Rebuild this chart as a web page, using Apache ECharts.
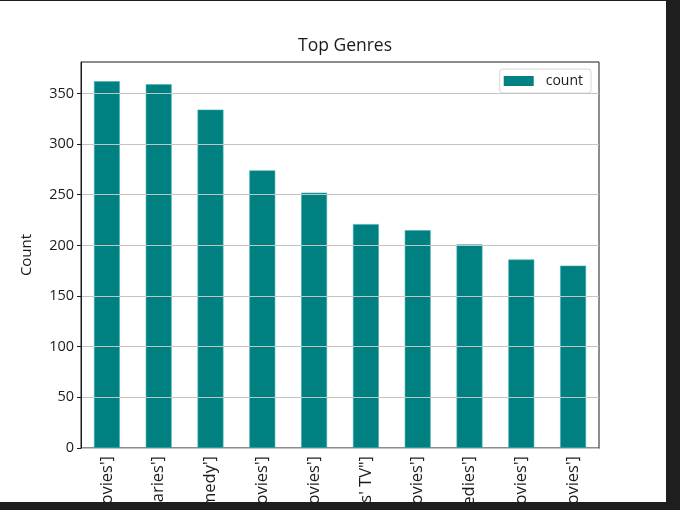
<!DOCTYPE html>
<html>
<head>
<meta charset="utf-8">
<script src="https://cdn.jsdelivr.net/npm/echarts@6/dist/echarts.min.js"></script>
<style>
html,body{margin:0;padding:0;background:#fff;}
#c{width:680px;height:510px;}
</style>
</head>
<body>
<div id="c"></div>
<script>
const categories = [
  "['Dramas', 'International Movies']",
  "['Documentaries']",
  "['Stand-Up Comedy']",
  "['Comedies', 'Dramas', 'International Movies']",
  "['Dramas', 'Independent Movies', 'International Movies']",
  "[\"Kids' TV\"]",
  "['Children & Family Movies']",
  "['Children & Family Movies', 'Comedies']",
  "['Documentaries', 'International Movies']",
  "['Dramas', 'International Movies', 'Romantic Movies']"
];
const counts = [362, 359, 334, 274, 252, 221, 215, 201, 186, 180];
const yTicks = [0, 50, 100, 150, 200, 250, 300, 350];
const yMax = 381;

const font = "'Open Sans', 'DejaVu Sans', sans-serif";
const chart = echarts.init(document.getElementById('c'));
chart.setOption({
  backgroundColor: '#ffffff',
  animation: false,
  title: {
    text: 'Top Genres',
    left: 340, top: 32, textAlign: 'center',
    textStyle: {fontFamily: font, fontSize: 17.5, fontWeight: 'normal', color: '#1a1a1a'}
  },
  legend: {
    right: 89, top: 69,
    data: ['count'],
    icon: 'rect',
    itemWidth: 30, itemHeight: 10, itemGap: 10,
    padding: [5, 8, 5, 4],
    borderColor: '#d6d6d6', borderWidth: 1, borderRadius: 3,
    backgroundColor: '#ffffff',
    itemStyle: {borderWidth: 0},
    textStyle: {fontFamily: font, fontSize: 14, color: '#1a1a1a', padding: [0, 0, 0, 7]}
  },
  grid: {
    left: 81, right: 81, top: 62, bottom: 62,
    containLabel: false,
    outerBoundsMode: 'none',
    show: true, borderColor: '#1a1a1a', borderWidth: 1, backgroundColor: 'transparent'
  },
  xAxis: {
    type: 'category',
    data: categories,
    axisLine: {lineStyle: {color: '#1a1a1a', width: 1}},
    axisTick: {alignWithLabel: true, length: 4, lineStyle: {color: '#1a1a1a'}},
    axisLabel: {rotate: 90, margin: 8, fontFamily: font, fontSize: 16.5, color: '#1a1a1a', interval: 0}
  },
  yAxis: {
    type: 'value',
    min: 0, max: yMax, interval: 50,
    z: 5,
    name: 'Count',
    nameLocation: 'middle',
    nameGap: 47,
    nameTextStyle: {fontFamily: font, fontSize: 15, color: '#1a1a1a'},
    axisLine: {show: true, lineStyle: {color: '#1a1a1a', width: 1}},
    axisTick: {show: true, length: 4, lineStyle: {color: '#1a1a1a'}, customValues: yTicks},
    axisLabel: {fontFamily: font, fontSize: 14.5, color: '#1a1a1a', margin: 7, customValues: yTicks},
    splitLine: {show: true, lineStyle: {color: '#c4c4c4', width: 1.2}}
  },
  series: [{
    name: 'count',
    type: 'bar',
    data: counts,
    barWidth: '50%',
    itemStyle: {color: '#008080', borderColor: '#3fb0b0', borderWidth: 0.6}
  }],
  graphic: [
    {type: 'rect', z: 1000, zlevel: 1, shape: {x: 666, y: 0, width: 14, height: 510}, style: {fill: '#1e1e1e'}},
    {type: 'rect', z: 1000, zlevel: 1, shape: {x: 0, y: 502, width: 680, height: 8}, style: {fill: '#1e1e1e'}},
    {type: 'rect', z: 1000, zlevel: 1, shape: {x: 0, y: 0, width: 680, height: 1}, style: {fill: '#1e1e1e'}}
  ]
});
</script>
</body>
</html>
